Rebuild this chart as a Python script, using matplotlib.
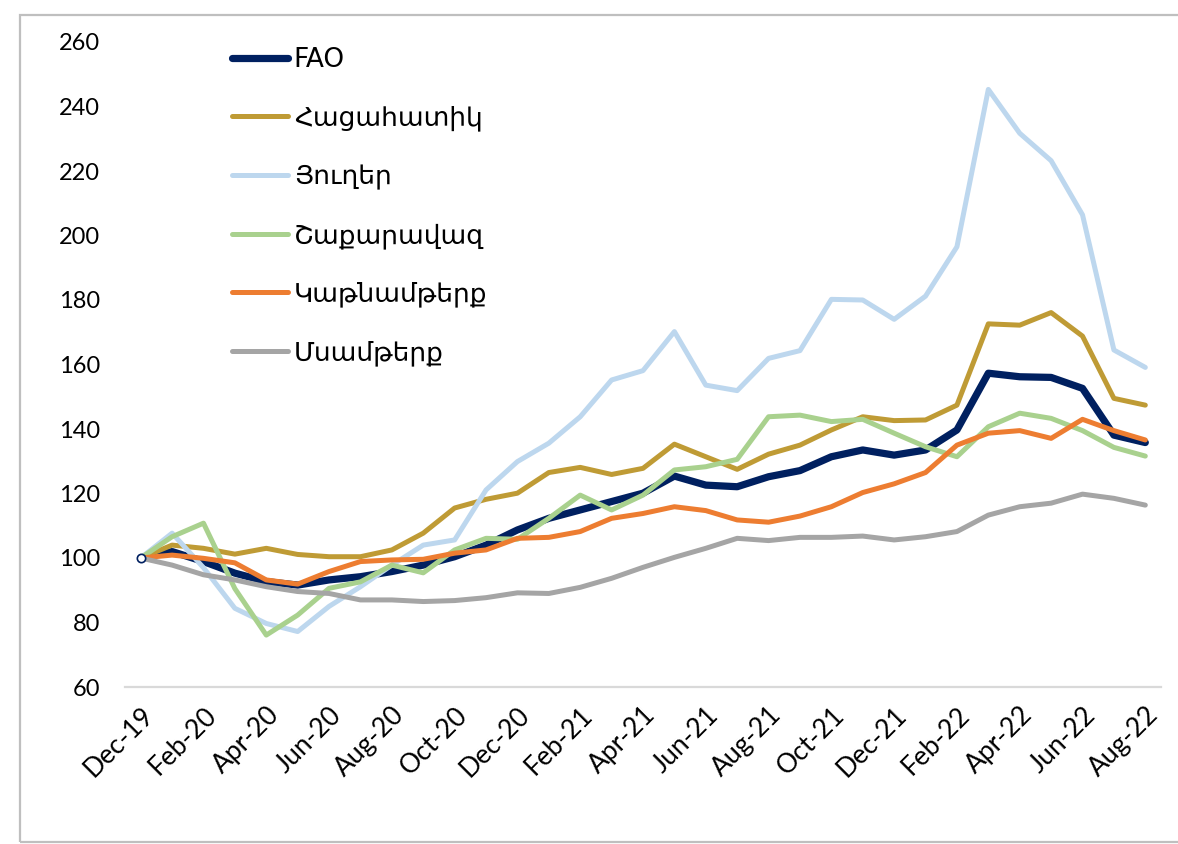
import matplotlib
matplotlib.use("Agg")
import matplotlib.pyplot as plt
from matplotlib.patches import Rectangle

months = ["Dec-19", "Jan-20", "Feb-20", "Mar-20", "Apr-20", "May-20", "Jun-20", "Jul-20",
          "Aug-20", "Sep-20", "Oct-20", "Nov-20", "Dec-20", "Jan-21", "Feb-21", "Mar-21",
          "Apr-21", "May-21", "Jun-21", "Jul-21", "Aug-21", "Sep-21", "Oct-21", "Nov-21",
          "Dec-21", "Jan-22", "Feb-22", "Mar-22", "Apr-22", "May-22", "Jun-22", "Jul-22",
          "Aug-22"]

fao = [100, 102, 98.9, 95.3, 92.7, 91.6, 93.2, 94.2, 95.8, 97.8, 100.4, 104, 108.7,
       112.3, 114.9, 117.5, 120.1, 125.4, 122.6, 122.1, 125.2, 127.1, 131.4, 133.5,
       131.9, 133.5, 139.7, 157.3, 156.2, 156.0, 152.6, 138.1, 135.8]
cereals = [100, 104, 103, 101.2, 103, 101.1, 100.4, 100.4, 102.5, 107.7, 115.5, 118.2,
           120.1, 126.5, 128.1, 125.9, 127.8, 135.3, 131.4, 127.5, 132.2, 135.0, 139.7,
           143.8, 142.6, 142.8, 147.4, 172.6, 172.2, 176.1, 168.8, 149.5, 147.4]
oils = [100, 107.7, 97, 84.4, 79.7, 77.2, 85, 91.1, 97.8, 104, 105.6, 121.1, 129.9,
        135.6, 143.8, 155.2, 158.1, 170.2, 153.6, 151.9, 161.9, 164.3, 180.2, 180.0,
        174.0, 181.2, 196.5, 245.3, 231.7, 223.2, 206.4, 164.5, 159.1]
sugar = [100, 106.6, 110.8, 90.5, 76.1, 82.3, 90.6, 92.6, 97.8, 95.4, 102.5, 106.1,
         105.8, 112.3, 119.5, 114.9, 119.5, 127.3, 128.3, 130.6, 143.8, 144.3, 142.3,
         143.0, 138.7, 134.5, 131.4, 140.7, 144.9, 143.3, 139.5, 134.3, 131.6]
dairy = [100, 100.9, 99.9, 98.5, 93.2, 91.9, 95.8, 98.9, 99.4, 99.6, 101.5, 102.5,
         106.1, 106.4, 108.2, 112.3, 113.8, 115.9, 114.7, 111.8, 111.1, 113.0, 115.9,
         120.3, 123.0, 126.5, 135.0, 138.7, 139.5, 137.1, 143.0, 139.5, 136.6]
meat = [100, 97.8, 94.8, 93.2, 91.1, 89.6, 89.0, 87.0, 87.0, 86.5, 86.8, 87.7, 89.2,
        89.0, 90.9, 93.7, 97.1, 100.2, 103.0, 106.1, 105.4, 106.4, 106.4, 106.8, 105.6,
        106.6, 108.2, 113.3, 115.9, 117.0, 119.8, 118.5, 116.4]

labels = ["FAO", "Հացահատիկ", "Յուղեր", "Շաքարավազ", "Կաթնամթերք", "Մսամթերք"]
series = [fao, cereals, oils, sugar, dairy, meat]
colors = ["#002060", "#BF9B35", "#BDD7EE", "#A9D18E", "#ED7D31", "#A5A5A5"]
widths = [5.2, 3.6, 3.6, 3.6, 3.6, 3.6]

yticks = [60, 80, 100, 120, 140, 160, 180, 200, 220, 240, 260]

W, H = 1178, 844
fig = plt.figure(figsize=(W / 100, H / 100), dpi=100)
ax = fig.add_axes([125 / W, 1 - 687 / H, (1161 - 125) / W, (687 - 42) / H])

x = list(range(len(months)))
for s, lab, c, lw in zip(series, labels, colors, widths):
    ax.plot(x, s, color=c, lw=lw, label=lab, solid_capstyle="round",
            solid_joinstyle="round")
ax.plot([0], [fao[0]], marker="o", ms=6, mfc="white", mec=colors[0], mew=1.2,
        ls="none")

ax.set_xlim(-0.5, len(months) - 0.5)
ax.set_ylim(60, 260)
ax.set_yticks(yticks)
ax.set_yticklabels([str(v) for v in yticks], fontsize=17, family="Lato")
ax.set_xticks(x[::2])
ax.set_xticklabels(months[::2], rotation=45, ha="right", rotation_mode="anchor",
                   fontsize=19, family="Lato")
ax.tick_params(axis="y", length=0, pad=18)
ax.tick_params(axis="x", length=0, pad=11)
for side in ["top", "right", "left"]:
    ax.spines[side].set_visible(False)
ax.spines["bottom"].set_color("#D9D9D9")
ax.spines["bottom"].set_linewidth(1.6)

handles, labs = ax.get_legend_handles_labels()
leg = ax.legend(handles[:6], labs[:6], loc="upper left",
                bbox_to_anchor=(208 / W, 1 - 23 / H), bbox_transform=fig.transFigure,
                frameon=False, prop={"family": "DejaVu Sans", "size": 19},
                handlelength=2.15, handletextpad=0.2, labelspacing=1.24)

fig.patches.append(Rectangle((20 / W, 1 - 842 / H), 1.2, (842 - 15) / H,
                             transform=fig.transFigure, fill=False,
                             edgecolor="#BFBFBF", lw=1.6))

fig.savefig("out.png", dpi=100)
